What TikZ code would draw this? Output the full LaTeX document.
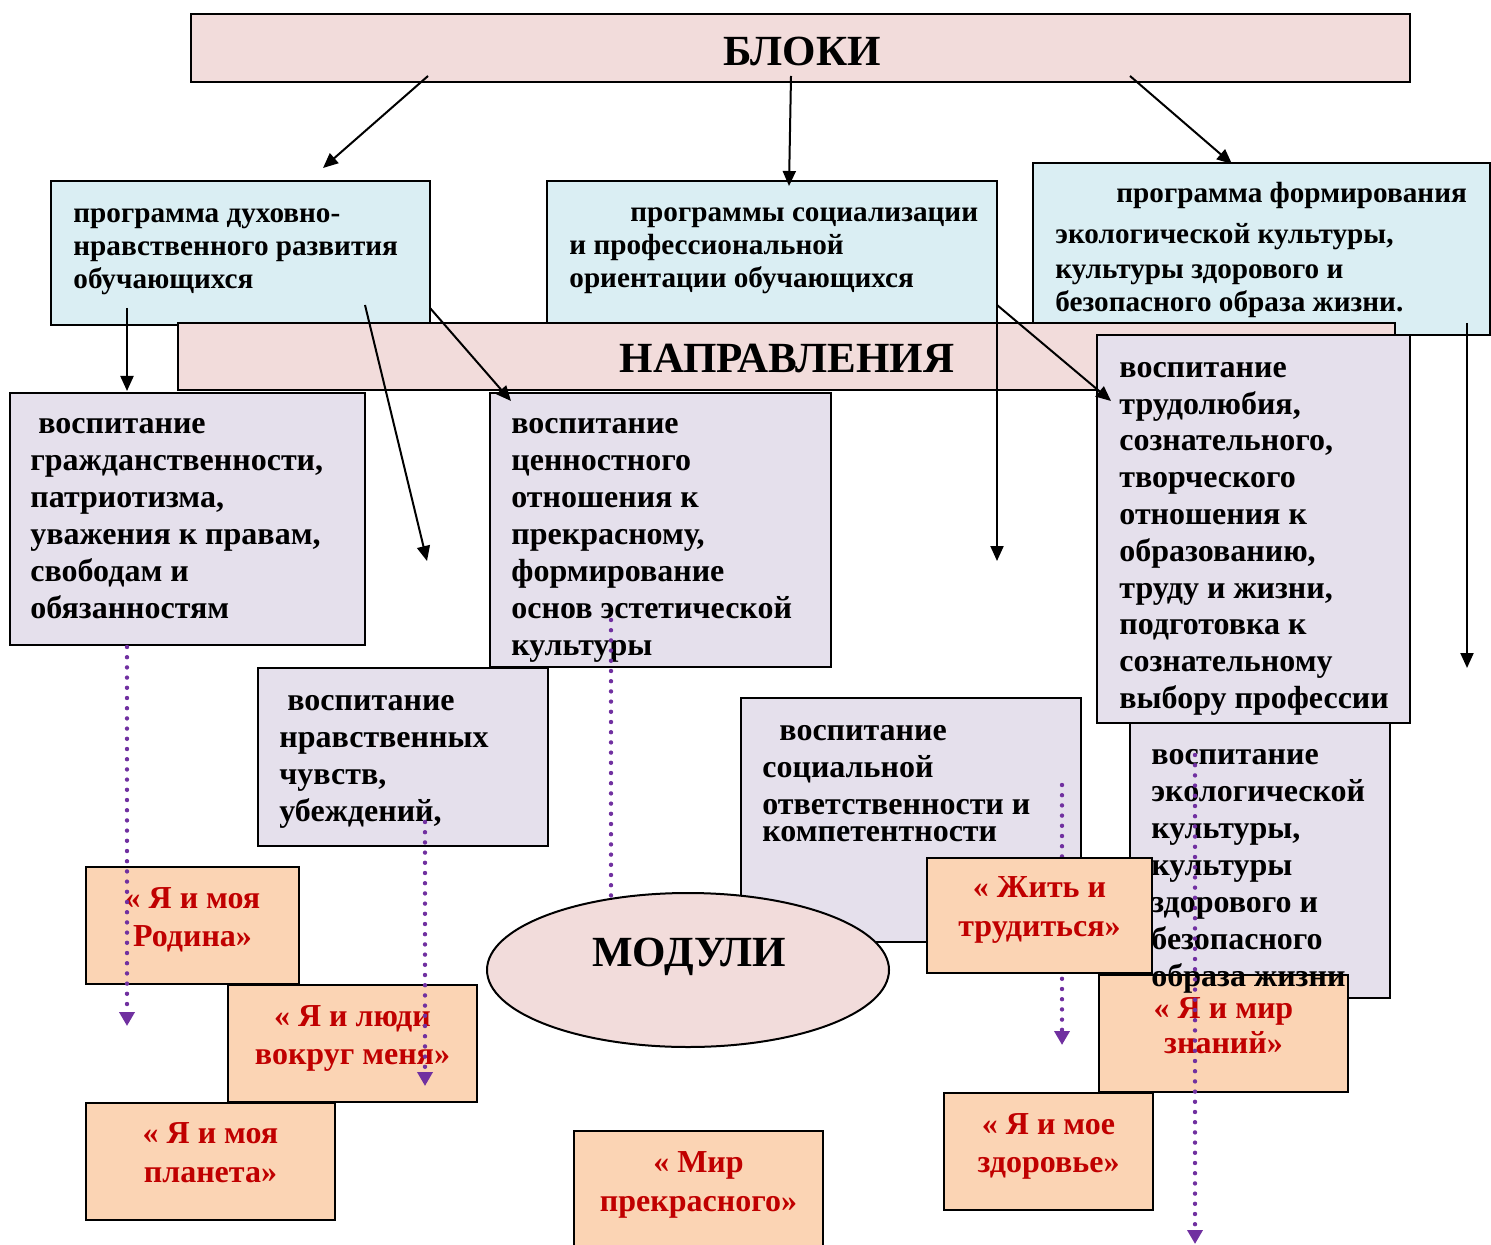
\documentclass[tikz,border=0pt]{standalone}
\usepackage{fontspec}
\setmainfont{Liberation Serif}
\usetikzlibrary{arrows.meta,shapes.geometric}
\definecolor{bluefill}{HTML}{DAEEF3}
\definecolor{pinkfill}{HTML}{F2DCDB}
\definecolor{lilac}{HTML}{E5E0EC}
\definecolor{peach}{HTML}{FBD4B4}
\definecolor{redtxt}{HTML}{C00000}
\definecolor{dotpurple}{HTML}{7030A0}
\newcommand\mybox[6]{\node[#2, minimum width={(#5-#3)*0.5pt}, minimum height={(#6-#4)*0.5pt}] (#1) at ({(#3+#5)/2},{(#4+#6)/2}) {};}
\tikzset{
 frame/.style={draw=black, line width=1pt, inner sep=0pt, outer sep=0pt, rectangle},
 bluebox/.style={frame, fill=bluefill},
 pinkbox/.style={frame, fill=pinkfill},
 lilacbox/.style={frame, fill=lilac},
 peachbox/.style={frame, fill=peach},
 head/.style={font=\bfseries\fontsize{21.5}{25}\selectfont, anchor=base, inner sep=0pt},
 bluetxt/.style={font=\bfseries\fontsize{14.6}{16.5}\selectfont, align=left, anchor=base west, inner sep=0pt},
 liltxt/.style={font=\bfseries\fontsize{16}{18.5}\selectfont, align=left, anchor=base west, inner sep=0pt},
 modtxt/.style={font=\bfseries\fontsize{16}{19}\selectfont, text=redtxt, align=center, anchor=base, inner sep=0pt},
 arr/.style={-{Triangle[length=7.5pt,width=6.5pt]}, line width=1pt},
 dotline/.style={draw=dotpurple, line width=2.2pt, line cap=round, dash pattern=on 0pt off 5.1pt},
 dotarr/.style={dotline, -{Triangle[length=7pt,width=7.5pt]}},
}
\begin{document}
\begin{tikzpicture}[x=0.5pt,y=-0.5pt]
\useasboundingbox (0,0) rectangle (1491,1245);
% blocks
\mybox{bloki}{pinkbox}{191}{14}{1410}{82}
\mybox{prog1}{bluebox}{51}{181}{430}{325}
\mybox{prog2}{bluebox}{547}{181}{997}{323}
\mybox{prog3}{bluebox}{1033}{163}{1490}{335}
\mybox{napr}{pinkbox}{178}{323}{1395}{390}
% directions
\mybox{dir1}{lilacbox}{10}{393}{365}{645}
\mybox{dir2}{lilacbox}{490}{393}{831}{667}
\mybox{dir3}{lilacbox}{1097}{335}{1410}{723}
\mybox{dir4}{lilacbox}{258}{668}{548}{846}
\mybox{dir5}{lilacbox}{741}{698}{1081}{942}
\mybox{dir6}{lilacbox}{1130}{723}{1390}{998}
% modules ellipse
\node[ellipse, draw=black, line width=1pt, fill=pinkfill, inner sep=0pt, minimum width=201pt, minimum height=77pt] (modell) at (688,970) {};
% dotted line behind the work module
\coordinate (d4s) at (1062,785);
\coordinate (d4e) at (1062,1045);
\draw[dotarr] (d4s) -- (d4e);
% modules
\mybox{m1}{peachbox}{86}{867}{299}{984}
\mybox{m2}{peachbox}{228}{985}{477}{1102}
\mybox{m3}{peachbox}{86}{1103}{335}{1220}
\mybox{m4}{peachbox}{574}{1131}{823}{1262}
\mybox{m5}{peachbox}{927}{858}{1152}{973}
\mybox{m6}{peachbox}{1099}{975}{1348}{1092}
\mybox{m7}{peachbox}{944}{1093}{1153}{1210}
% headers
\node[head] (tbloki) at (802,65.5) {БЛОКИ};
\node[head] (tnapr) at (787,373) {НАПРАВЛЕНИЯ};
\node[head] (tmod) at (689,966) {МОДУЛИ};
% program texts (anchored at the baseline of the last line)
\node[bluetxt] (tp1) at (73,288.5) {программа духовно-\\нравственного развития\\обучающихся};
\node[bluetxt] (tp2) at (569,288) {\hspace*{30.5pt}программы социализации\\и профессиональной\\ориентации обучающихся};
\node[bluetxt, font=\bfseries\fontsize{14.6}{17.5}\selectfont] (tp3) at (1055,312) {\hspace*{30.5pt}программа формирования\\[3pt]экологической культуры,\\культуры здорового и\\[-1pt]безопасного образа жизни.};
% direction texts
\node[liltxt] (td1) at (30,618.5) {\hspace*{4pt}воспитание\\гражданственности,\\патриотизма,\\уважения к правам,\\свободам и\\обязанностям};
\node[liltxt] (td2) at (511,655.5) {воспитание\\ценностного\\отношения к\\прекрасному,\\формирование\\основ эстетической\\культуры};
\node[liltxt, font=\bfseries\fontsize{16}{18.4}\selectfont] (td3) at (1119,708.5) {воспитание\\трудолюбия,\\сознательного,\\творческого\\отношения к\\образованию,\\труду и жизни,\\подготовка к\\сознательному\\выбору профессии};
\node[liltxt] (td4) at (279,821) {\hspace*{4pt}воспитание\\нравственных\\чувств,\\убеждений,};
\node[liltxt] (td5) at (762,841) {\hspace*{8.5pt}воспитание\\социальной\\ответственности и\\[-5pt]компетентности};
\node[liltxt] (td6) at (1151,986) {воспитание\\экологической\\культуры,\\культуры\\здорового и\\безопасного\\образа жизни};
% module texts
\node[modtxt] (tm1) at (192.5,946) {« Я и моя\\Родина»};
\node[modtxt] (tm2) at (352.5,1064) {« Я и люди\\вокруг меня»};
\node[modtxt, font=\bfseries\fontsize{16}{19.5}\selectfont] (tm3) at (210.5,1182) {« Я и моя\\планета»};
\node[modtxt, font=\bfseries\fontsize{16}{19.5}\selectfont] (tm4) at (698.5,1211) {« Мир\\прекрасного»};
\node[modtxt, font=\bfseries\fontsize{16}{19.5}\selectfont] (tm5) at (1039.5,936) {« Жить и\\трудиться»};
\node[modtxt, font=\bfseries\fontsize{16}{17.5}\selectfont] (tm6) at (1223.5,1053) {« Я и мир\\знаний»};
\node[modtxt] (tm7) at (1048.5,1172) {« Я и мое\\здоровье»};
% black arrows
\coordinate (a1s) at (428,76);  \coordinate (a1e) at (323,168);
\coordinate (a2s) at (791,76);  \coordinate (a2e) at (789,186);
\coordinate (a3s) at (1130,76); \coordinate (a3e) at (1232,164);
\coordinate (a4s) at (127,308); \coordinate (a4e) at (127,391);
\coordinate (a5s) at (365,305); \coordinate (a5e) at (427,561);
\coordinate (a6s) at (430,308); \coordinate (a6e) at (511,401);
\coordinate (a7s) at (997,305); \coordinate (a7e) at (1111,401);
\coordinate (a8s) at (997,305); \coordinate (a8e) at (997,561);
\coordinate (a9s) at (1467,323); \coordinate (a9e) at (1467,668);
\foreach \i in {1,...,9} \draw[arr] (a\i s) -- (a\i e);
% dotted arrows
\coordinate (d1s) at (127,647);  \coordinate (d1e) at (127,1026);
\coordinate (d2s) at (425,822);  \coordinate (d2e) at (425,1086);
\coordinate (d3s) at (611,620);  \coordinate (d3e) at (611,897);
\coordinate (d5s) at (1195,755); \coordinate (d5e) at (1195,1244);
\draw[dotarr] (d1s) -- (d1e);
\draw[dotarr] (d2s) -- (d2e);
\draw[dotline] (d3s) -- (d3e);
\draw[dotarr] (d5s) -- (d5e);
\end{tikzpicture}
\end{document}
